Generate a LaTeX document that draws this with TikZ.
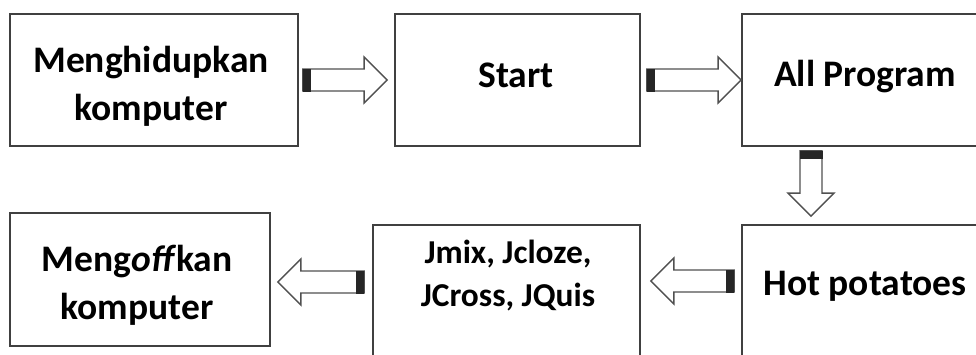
\documentclass[tikz,border=0pt]{standalone}
\usepackage{fontspec}
\setmainfont{Carlito}
\usetikzlibrary{calc}
\definecolor{boxline}{HTML}{404040}
\definecolor{arrline}{HTML}{505050}
\tikzset{
  box/.style={draw=boxline, line width=1.8pt, fill=white, rectangle, inner sep=0pt},
  bigtxt/.style={font=\fontsize{37.5}{48}\selectfont\bfseries, align=center, inner sep=0pt, text=black},
  midtxt/.style={font=\fontsize{33.4}{43}\selectfont\bfseries, align=center, inner sep=0pt, text=black},
  arrowline/.style={draw=arrline, line width=1.4pt, fill=white, line join=miter},
  tailblock/.style={fill=black!85}
}
\newcommand\blockarrow[2]{%
  \coordinate (ba-h) at ($(#2)!23pt!(#1)$);
  \coordinate (ba-t) at ($(#1)!8pt!(#2)$);
  \draw[arrowline] ($(#1)!11pt!90:(#2)$) -- ($(ba-h)!11pt!90:(#2)$) -- ($(ba-h)!23pt!90:(#2)$) -- (#2)
     -- ($(ba-h)!23pt!-90:(#2)$) -- ($(ba-h)!11pt!-90:(#2)$) -- ($(#1)!11pt!-90:(#2)$) -- cycle;
  \fill[tailblock] ($(#1)!11.5pt!90:(#2)$) -- ($(#1)!11.5pt!-90:(#2)$) -- ($(ba-t)!11.5pt!-90:(#2)$) -- ($(ba-t)!11.5pt!90:(#2)$) -- cycle;
}
\begin{document}
\begin{tikzpicture}[x=1pt,y=-1pt]
\useasboundingbox (0,0) rectangle (976,354);
\clip (0,0) rectangle (976,354);
\fill[white] (0,0) rectangle (976,354);
% boxes
\node[box, minimum width=288pt, minimum height=132pt] (b1) at (154,80) {};
\node[box, minimum width=245pt, minimum height=132pt] (b2) at (517.5,80) {};
\node[box, minimum width=246pt, minimum height=132pt] (b3) at (865,80) {};
\node[box, minimum width=260pt, minimum height=133pt] (b4) at (140,279.5) {};
\node[box, minimum width=267pt, minimum height=150pt] (b5) at (506.5,300) {};
\node[box, minimum width=246pt, minimum height=150pt] (b6) at (865,300) {};
% texts
\node[bigtxt] (t1) at (151,86) {Menghidupkan\\komputer};
\node[bigtxt] (t2) at (516,75) {Start};
\node[bigtxt] (t3) at (865,77) {All Program};
\node[bigtxt] (t6) at (865,286) {Hot potatoes};
\node[midtxt] (t5) at (508,276) {Jmix, Jcloze,\\JCross, JQuis};
\node[bigtxt] (t4) at (137,285) {Meng\textit{off}kan\\komputer};
% arrow end points
\coordinate (a1s) at ([xshift=4pt]b1.east);
\coordinate (a1e) at ([xshift=-7pt]b2.west);
\coordinate (a2s) at ([xshift=6pt]b2.east);
\coordinate (a2e) at (b3.west);
\coordinate (a3s) at ([xshift=-54pt,yshift=-4pt]b3.south);
\coordinate (a3e) at ([xshift=-54pt,yshift=8pt]b6.north);
\coordinate (a4s) at ([xshift=-7pt]b6.west |- 0,281);
\coordinate (a4e) at ([xshift=10pt]b5.east |- 0,281);
\coordinate (a5s) at ([xshift=-8pt]b5.west |- 0,282);
\coordinate (a5e) at ([xshift=7pt]b4.east |- 0,282);
\blockarrow{a1s}{a1e}
\blockarrow{a2s}{a2e}
\blockarrow{a3s}{a3e}
\blockarrow{a4s}{a4e}
\blockarrow{a5s}{a5e}
\end{tikzpicture}
\end{document}
